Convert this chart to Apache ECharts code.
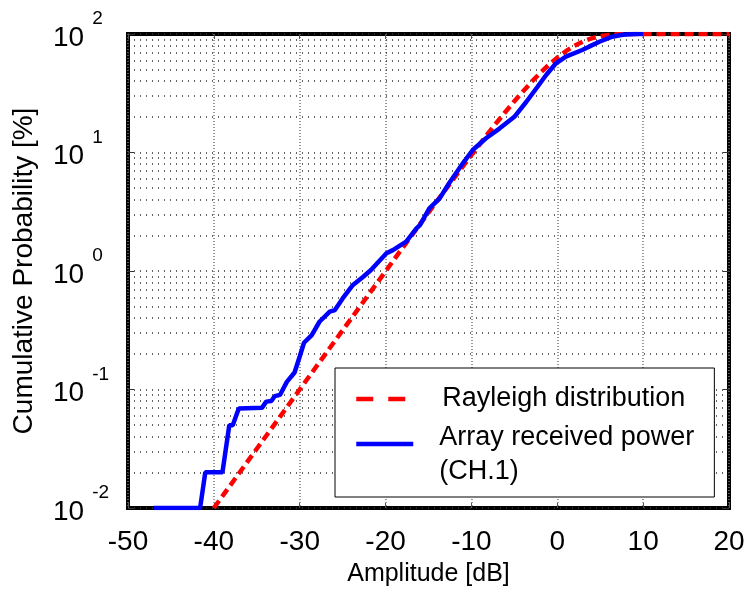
<!DOCTYPE html>
<html><head><meta charset="utf-8">
<script src="https://cdn.jsdelivr.net/npm/echarts@6/dist/echarts.min.js"></script>
<style>html,body{margin:0;padding:0;background:#fff}#c{width:749px;height:592px}</style>
</head><body><div id="c"></div>
<script>
// ---- data ----
const xTickValues = [-50, -40, -30, -20, -10, 0, 10, 20];
const yDecades = [0.01, 0.1, 1, 10, 100];
const yMinorGrid = [0.02,0.03,0.04,0.05,0.06,0.07,0.08,0.09,
                    0.2,0.3,0.4,0.5,0.6,0.7,0.8,0.9,
                    2,3,4,5,6,7,8,9,
                    20,30,40,50,60,70,80,90];

const rayleighX = [-40, -35, -30, -25, -20, -17, -15, -14, -13, -12, -11, -10, -9, -8, -7, -6, -5, -4, -3, -2, -1, 0, 1, 2, 3, 4, 5, 6, 7, 8, 10, 20];
const rayleighP = [0.01, 0.0316, 0.1, 0.316, 0.995, 1.98, 3.11, 3.9, 4.89, 6.1, 7.64, 9.5, 11.8, 14.7, 18.1, 22.2, 27.1, 32.7, 39.4, 46.8, 54.8, 63.2, 71.6, 79.5, 86.4, 91.9, 95.8, 98.1, 99.3, 99.8, 100, 100];

const arrayX = [-47, -41.6, -41.0, -39.0, -38.2, -37.8, -37.1, -34.4, -33.9, -33.3, -32.9, -32.3, -31.5, -30.6, -30.0, -29.5, -28.6, -27.7, -26.5, -25.9, -25.0, -23.8, -22.6, -21.7, -19.9, -19.15, -17.6, -16.4, -16.0, -14.9, -13.7, -12.6, -11.0, -9.85, -8.3, -6.7, -5.0, -3.6, -2.3, -1.3, -0.15, 1.0, 2.9, 3.7, 4.9, 6.4, 7.6, 9.1, 10];
const arrayP = [0.01, 0.01, 0.02, 0.02, 0.05, 0.05, 0.069, 0.07, 0.079, 0.08, 0.088, 0.09, 0.116, 0.139, 0.19, 0.248, 0.288, 0.373, 0.454, 0.468, 0.587, 0.762, 0.895, 1.02, 1.41, 1.50, 1.77, 2.29, 2.44, 3.38, 4.1, 5.5, 8.1, 10.5, 13.2, 16.0, 20.0, 26.8, 35.9, 45.1, 56.6, 64.4, 73.3, 78.2, 86, 94.9, 98.5, 100, 100];

const nameRayleigh = 'Rayleigh distribution';
const nameArray = 'Array received power (CH.1)';
const nameArrayLines = ['Array received power', '(CH.1)'];

// ---- chart ----
const FF = '"Liberation Sans", Arial, Helvetica, sans-serif';
const chart = echarts.init(document.getElementById('c'), null, {renderer: 'canvas'});

const hGridStyle = {color: '#333', width: 1.5, type: [1, 5]};
const vGridStyle = {color: '#777', width: 1.5, type: [1, 2]};

const option = {
  backgroundColor: '#fff',
  animation: false,
  grid: {left: 128, top: 34, width: 601, height: 474, show: true,
         borderColor: '#000', borderWidth: 4, backgroundColor: 'transparent'},
  legend: {
    left: 335, top: 368, orient: 'vertical',
    padding: [14, 20, 8, 19],
    itemGap: -17, itemWidth: 57, itemHeight: 14,
    borderColor: '#000', borderWidth: 1, backgroundColor: '#fff',
    selectedMode: false,
    formatter: name => name === nameArray
      ? '{s| }\n{t|' + nameArrayLines[0] + '}\n{t|' + nameArrayLines[1] + '}'
      : '{t|' + name + '}',
    textStyle: {fontSize: 27, fontFamily: FF, color: '#000', lineHeight: 34,
      rich: {
        s: {fontSize: 10, lineHeight: 22, fontFamily: FF},
        t: {fontSize: 27, lineHeight: 34, fontFamily: FF, color: '#000'}
      }},
    data: [
      {name: nameRayleigh, textStyle: {padding: [0, 0, 0, 24]},
       itemStyle: {opacity: 0, borderWidth: 0},
       lineStyle: {width: 4.5, type: [17, 15], color: '#ff0000'}},
      {name: nameArray, textStyle: {padding: [0, 0, 0, 21]},
       itemStyle: {opacity: 0, borderWidth: 0},
       lineStyle: {width: 4.5, color: '#0000ff'}}
    ]
  },
  xAxis: [{
    type: 'value', min: -50, max: 20, interval: 10,
    name: 'Amplitude [dB]', nameLocation: 'middle', nameGap: 54,
    nameTextStyle: {fontSize: 25, fontFamily: FF, color: '#000'},
    axisLine: {show: false, onZero: false},
    axisTick: {show: true, inside: true, length: 5, lineStyle: {color: '#555', width: 1}},
    axisLabel: {fontSize: 28, fontFamily: FF, color: '#000', margin: 20,
                customValues: xTickValues},
    splitLine: {show: true, lineStyle: vGridStyle}
  }, {
    type: 'value', min: -50, max: 20, interval: 10, position: 'top',
    axisLine: {show: false, onZero: false},
    axisTick: {show: true, inside: true, length: 5, lineStyle: {color: '#555', width: 1}},
    axisLabel: {show: false}, splitLine: {show: false}
  }],
  yAxis: [{
    type: 'log', logBase: 10, min: 0.01, max: 100, position: 'left',
    name: 'Cumulative Probability [%]', nameLocation: 'middle', nameGap: 90,
    nameTextStyle: {fontSize: 28, fontFamily: FF, color: '#000'},
    axisLine: {show: false, onZero: false},
    axisTick: {show: true, inside: true, length: 6, lineStyle: {color: '#333', width: 1}},
    axisLabel: {
      align: 'left', margin: 75,
      formatter: v => '{a|10}{b|' + Math.round(Math.log10(v)) + '}',
      rich: {
        a: {fontSize: 28, fontFamily: FF, color: '#000', padding: [8, 0, 0, 0]},
        b: {fontSize: 19, fontFamily: FF, color: '#000', padding: [0, 0, 30, 8]}
      }
    },
    splitLine: {show: true, lineStyle: hGridStyle}
  }, {
    type: 'log', logBase: 10, min: 0.01, max: 100, position: 'right',
    axisLine: {show: false, onZero: false},
    axisTick: {show: true, inside: true, length: 6, lineStyle: {color: '#333', width: 1}},
    axisLabel: {show: false}, splitLine: {show: false}
  }],
  series: [
    {
      name: nameRayleigh, type: 'line', showSymbol: false, symbol: 'none', z: 3,
      data: rayleighX.map((x, i) => [x, rayleighP[i]]),
      lineStyle: {color: '#ff0000', width: 4.5, type: [9, 5]},
      itemStyle: {color: '#ff0000'},
      markLine: {
        silent: true, symbol: 'none', z: 1, animation: false,
        label: {show: false}, lineStyle: hGridStyle,
        emphasis: {disabled: true},
        data: yMinorGrid.map(v => ({yAxis: v}))
      }
    },
    {
      name: nameArray, type: 'line', showSymbol: false, symbol: 'none', z: 4,
      data: arrayX.map((x, i) => [x, arrayP[i]]),
      lineStyle: {color: '#0000ff', width: 4.5},
      itemStyle: {color: '#0000ff'}
    }
  ]
};
chart.setOption(option);
</script></body></html>
